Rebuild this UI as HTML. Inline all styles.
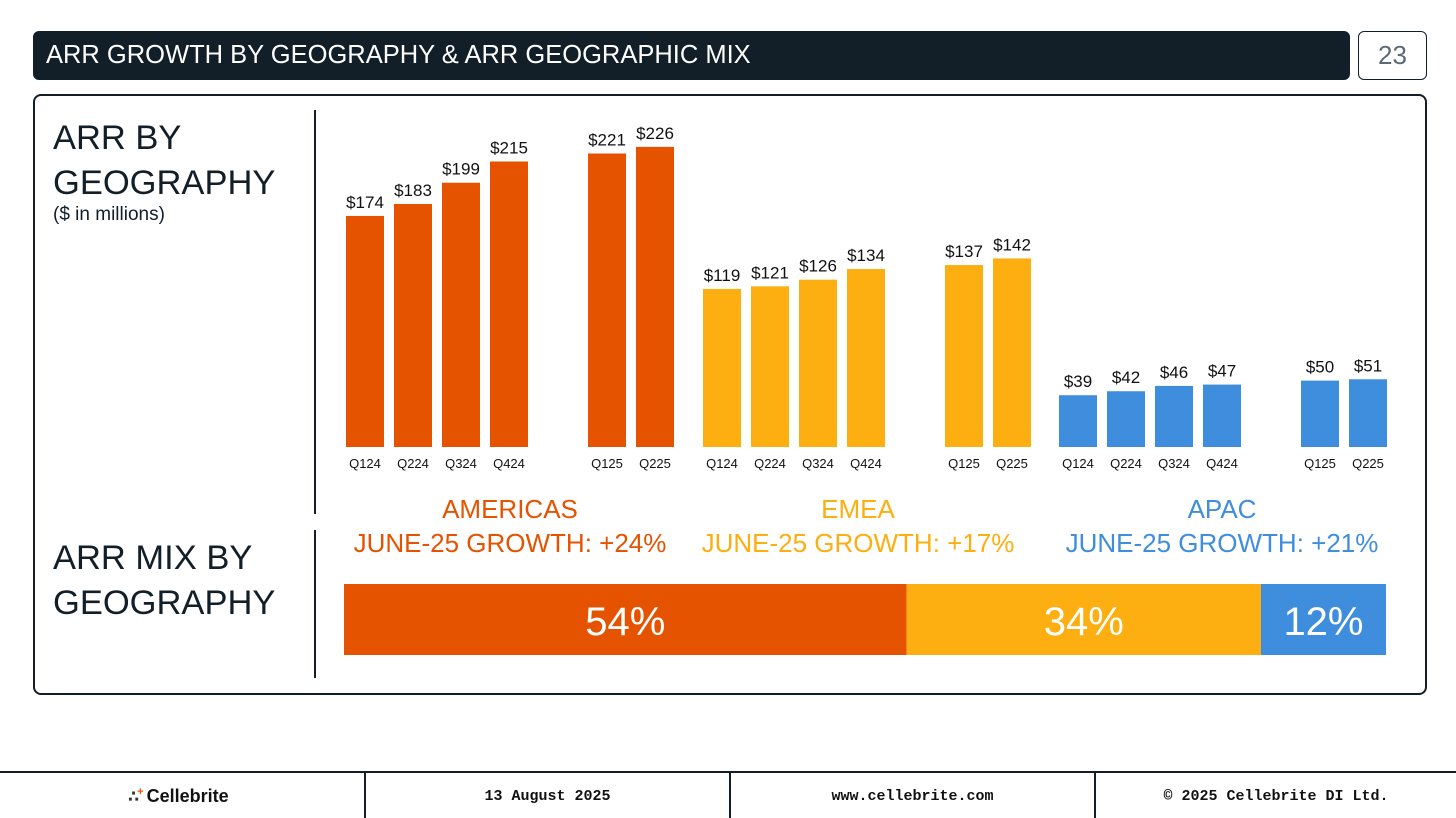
<!DOCTYPE html>
<html><head><meta charset="utf-8"><style>
body{margin:0;width:1456px;height:818px;background:#fff;position:relative;overflow:hidden;font-family:"Liberation Sans","DejaVu Sans",sans-serif}
.abs{position:absolute}
.title{left:33px;top:31px;width:1317px;height:49px;background:#121e28;border-radius:6px;color:#fff;font-size:25.5px;line-height:49px;padding-left:13px;box-sizing:border-box}
.pg{left:1358px;top:31px;width:69px;height:49px;border:1.5px solid #121e28;border-radius:6px;box-sizing:border-box;color:#5a6a7a;font-size:26px;text-align:center;line-height:47px}
.main{left:33px;top:94px;width:1394px;height:601px;border:2px solid #121e28;border-radius:8px;box-sizing:border-box}
.h{color:#121e28;font-size:34.5px;line-height:45px}
.foot{font-family:"Liberation Mono",monospace;font-size:15px;font-weight:bold;color:#111;top:788px;text-align:center}
</style></head><body>
<div class="abs title">ARR GROWTH BY GEOGRAPHY &amp; ARR GEOGRAPHIC MIX</div>
<div class="abs pg">23</div>
<div class="abs main"></div>
<div class="abs h" style="left:53px;top:116px">ARR BY<br>GEOGRAPHY</div>
<div class="abs" style="left:53px;top:204px;font-size:19px;color:#121e28">($ in millions)</div>
<div class="abs h" style="left:53px;top:536px">ARR MIX BY<br>GEOGRAPHY</div>
<div class="abs" style="left:314px;top:110px;width:2px;height:404px;background:#121e28"></div>
<div class="abs" style="left:314px;top:530px;width:2px;height:148px;background:#121e28"></div>
<svg class="abs" style="left:0;top:0" width="1456" height="818" id="chart"></svg>
<div class="abs" style="left:0;top:771px;width:1456px;height:2px;background:#121e28"></div>
<div class="abs" style="left:364px;top:772px;width:2px;height:46px;background:#121e28"></div>
<div class="abs" style="left:729px;top:772px;width:2px;height:46px;background:#121e28"></div>
<div class="abs" style="left:1094px;top:772px;width:2px;height:46px;background:#121e28"></div>
<div class="abs" style="left:128px;top:786px;font-size:18px;font-weight:bold;color:#111"><span style="color:#333;font-size:16px;letter-spacing:-2px">∴<span style="color:#e65300;font-size:11px;vertical-align:top">+</span></span> Cellebrite</div>
<div class="abs foot" style="left:366px;width:363px">13 August 2025</div>
<div class="abs foot" style="left:731px;width:363px">www.cellebrite.com</div>
<div class="abs foot" style="left:1096px;width:360px">© 2025 Cellebrite DI Ltd.</div>
<script>
const regions=["AMERICAS","EMEA","APAC"];
const growth=["+24%","+17%","+21%"];
const quarters=["Q124","Q224","Q324","Q424","Q125","Q225"];
const americas=[174,183,199,215,221,226];
const emea=[119,121,126,134,137,142];
const apac=[39,42,46,47,50,51];
const mix=[54,34,12];
const colors=["#e65300","#fdae10","#3f8edd"];
const NS="http://www.w3.org/2000/svg";
const svg=document.getElementById("chart");
const base=447, k=1.328;
const y=v=>base-v*k;
const groupX=[346,703,1059];
const slotX=[0,48,96,144,242,290];
const labelX=[510,858,1222];
function mk(t,a){const e=document.createElementNS(NS,t);for(const n in a)e.setAttribute(n,a[n]);svg.appendChild(e);return e;}
[americas,emea,apac].forEach((s,g)=>{
  s.forEach((v,i)=>{
    const x=groupX[g]+slotX[i];
    const r=mk("rect",{x:x,y:y(v),width:38,height:v*k,fill:colors[g]});
    
    
    const l=mk("text",{x:x+19,y:y(v)-8,"text-anchor":"middle","font-size":"17",fill:"#111"});
    l.textContent="$"+v;
    
    
    const q=mk("text",{x:x+19,y:468,"text-anchor":"middle","font-size":"13",fill:"#111"});
    q.textContent=quarters[i];
    
    
  });
  const cx=labelX[g];
  const t1=mk("text",{x:cx,y:518,"text-anchor":"middle","font-size":"26",fill:colors[g]});
  t1.textContent=regions[g];
  
  
  const t2=mk("text",{x:cx,y:552,"text-anchor":"middle","font-size":"26",fill:colors[g]});
  t2.textContent="JUNE-25 GROWTH: "+growth[g];
  
  
});
const mx0=344,mw=1042;let cx=mx0;
const tot=mix.reduce((a,b)=>a+b,0);
mix.forEach((m,i)=>{
  const w=m/tot*mw;
  const r=mk("rect",{x:cx,y:584,width:w,height:71,fill:colors[i]});
  
  
  const t=mk("text",{x:cx+w/2,y:635,"text-anchor":"middle","font-size":"40",fill:"#fff"});
  t.textContent=m+"%";
  
  
  cx+=w;
});
</script>
</body></html>
